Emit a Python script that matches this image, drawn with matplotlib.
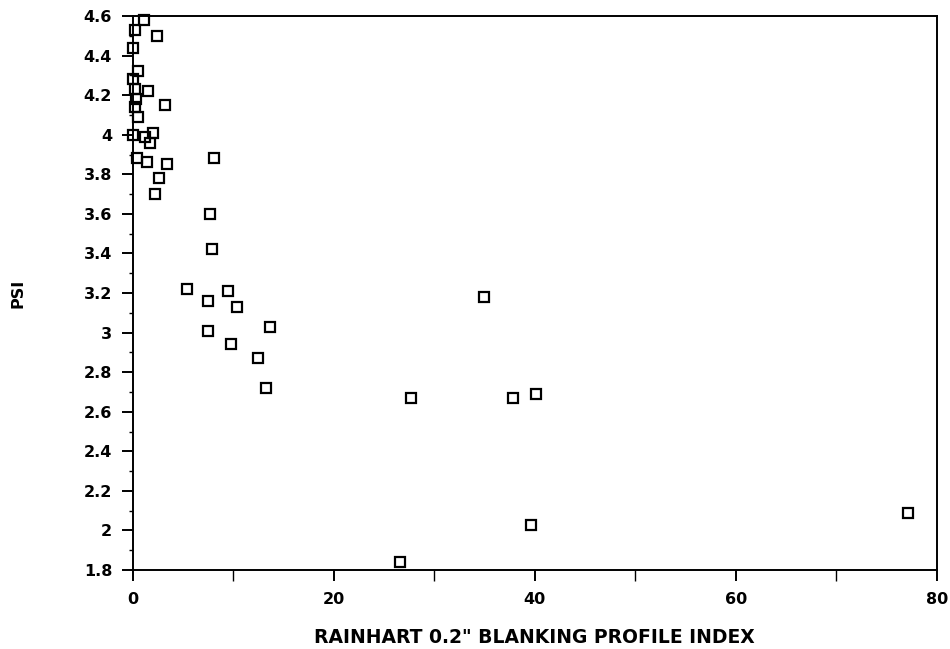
import matplotlib
matplotlib.use("Agg")
from matplotlib import pyplot as plt
from matplotlib.ticker import MultipleLocator, FormatStrFormatter, FuncFormatter

# Rainhart profile index vs. present serviceability index
profile_index = [1.1, 0.2, 2.4, 0.0, 0.5, 0.0, 0.2, 1.5, 0.3, 3.2, 0.2, 0.5,
                 0.0, 2.0, 1.2, 1.7, 0.4, 1.4, 8.1, 3.4, 2.6, 2.2, 7.7, 7.9,
                 5.4, 9.5, 7.5, 10.4, 34.9, 13.6, 7.5, 9.8, 12.4, 13.2, 27.7,
                 37.8, 40.1, 39.6, 26.6, 77.1]
psi = [4.58, 4.53, 4.50, 4.44, 4.32, 4.28, 4.23, 4.22, 4.18, 4.15, 4.14, 4.09,
       4.00, 4.01, 3.99, 3.96, 3.88, 3.86, 3.88, 3.85, 3.78, 3.70, 3.60, 3.42,
       3.22, 3.21, 3.16, 3.13, 3.18, 3.03, 3.01, 2.94, 2.87, 2.72, 2.67,
       2.67, 2.69, 2.03, 1.84, 2.09]

fig = plt.figure(figsize=(9.5, 6.49), dpi=100)
ax = fig.add_axes([0.14, 0.1217, 0.846, 0.8536])

ax.plot(profile_index, psi, linestyle='none', marker='s', markersize=7.5,
        markerfacecolor='none', markeredgecolor='black', markeredgewidth=1.6,
        clip_on=False)

ax.set_xlim(0, 80)
ax.set_ylim(1.8, 4.6)
ax.xaxis.set_major_locator(MultipleLocator(20))
ax.xaxis.set_minor_locator(MultipleLocator(10))
ax.yaxis.set_major_locator(MultipleLocator(0.2))
ax.yaxis.set_minor_locator(MultipleLocator(0.1))
ax.xaxis.set_major_formatter(FormatStrFormatter('%d'))
ax.yaxis.set_major_formatter(FuncFormatter(lambda v, p: '%g' % round(v, 1)))

for s in ax.spines.values():
    s.set_linewidth(1.4)
ax.tick_params(which='major', direction='out', length=8, width=1.4,
               labelsize=11.5, top=False, right=False)
ax.tick_params(axis='x', which='major', pad=8)
ax.tick_params(axis='y', which='major', pad=7)
ax.tick_params(which='minor', direction='out', length=3, width=1.0,
               top=False, right=False)
ax.tick_params(axis='x', which='minor', length=8)
for lbl in ax.get_xticklabels() + ax.get_yticklabels():
    lbl.set_fontweight('bold')

ax.set_xlabel('RAINHART 0.2" BLANKING PROFILE INDEX', fontsize=13.5,
              fontweight='bold')
ax.xaxis.set_label_coords(0.5, -0.104)
ax.set_ylabel('PSI', fontsize=11.5, fontweight='bold')
ax.yaxis.set_label_coords(-0.134, 0.5)

fig.savefig('out.png', dpi=100, facecolor='white')
